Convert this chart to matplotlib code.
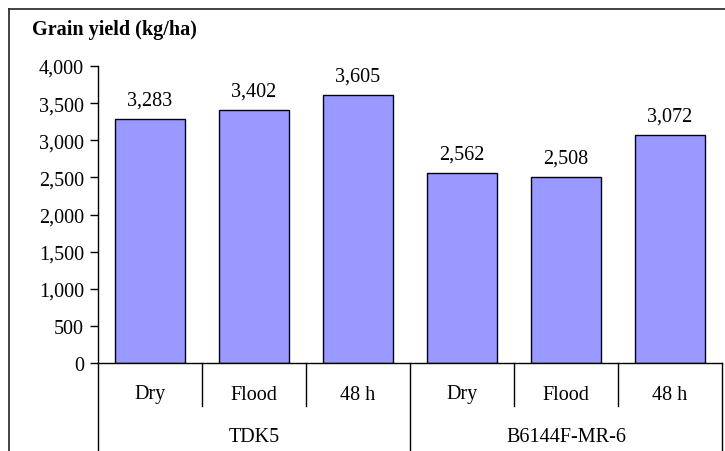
import matplotlib
matplotlib.use("Agg")
import matplotlib.pyplot as plt
from matplotlib.lines import Line2D

plt.rcParams["font.family"] = ["Liberation Serif", "DejaVu Serif"]

# chart data
treatments = ["Dry", "Flood", "48 h", "Dry", "Flood", "48 h"]
varieties = ["TDK5", "B6144F-MR-6"]
yields = [3283, 3402, 3605, 2562, 2508, 3072]
y_ticks = [0, 500, 1000, 1500, 2000, 2500, 3000, 3500, 4000]

FS = 14.5
W, H = 725, 452
fig = plt.figure(figsize=(W / 100, H / 100), dpi=100)

left, right, bottom, top = 98, 722, 364, 67
ax = fig.add_axes([left / W, 1 - bottom / H, (right - left) / W, (bottom - top) / H])

x = list(range(len(yields)))
ax.bar(x, yields, width=0.68, color="#9999FF", edgecolor="black", linewidth=1.0)
for xi, val in zip(x, yields):
    ax.annotate(f"{val:,}", (xi, val), xytext=(0, 7), textcoords="offset points",
                ha="center", va="bottom", fontsize=FS)

ax.set_xlim(-0.5, len(yields) - 0.5)
ax.set_ylim(0, 4000)
ax.set_yticks(y_ticks)
ax.set_yticklabels([f"{t:,}" for t in y_ticks], fontsize=FS)
ax.tick_params(axis="y", direction="out", length=6, width=1, pad=4)
ax.set_xticks([])
for side in ["top", "right"]:
    ax.spines[side].set_visible(False)
ax.spines["left"].set_linewidth(1)
ax.spines["bottom"].set_linewidth(1)

# multi-level category axis
trans = ax.get_xaxis_transform()
short_y = -(407 - bottom) / (bottom - top)
long_y = -(H - bottom) / (bottom - top)
for b in range(len(yields) + 1):
    xb = b - 0.5
    y_end = long_y if b % 3 == 0 else short_y
    ax.add_line(Line2D([xb, xb], [0, y_end], transform=trans, color="black",
                       linewidth=1, clip_on=False))

sub_y = -(395 - bottom) / (bottom - top)
grp_y = -(437 - bottom) / (bottom - top)
for xi, lab in zip(x, treatments):
    ax.text(xi, sub_y, lab, transform=trans, ha="center", va="center", fontsize=FS)
for gi, lab in enumerate(varieties):
    ax.text(gi * 3 + 1, grp_y, lab, transform=trans, ha="center", va="center", fontsize=FS)

# title
fig.text(32 / W, 1 - 30 / H, "Grain yield (kg/ha)", ha="left", va="center",
         fontsize=FS, fontweight="bold")

# outer chart frame
fig.add_artist(Line2D([9 / W, 1], [1 - 10 / H, 1 - 10 / H], transform=fig.transFigure,
                      color="#222222", linewidth=1.2))
fig.add_artist(Line2D([9 / W, 9 / W], [1 - 10 / H, 0], transform=fig.transFigure,
                      color="#222222", linewidth=1.2))

fig.savefig("out.png", dpi=100)
